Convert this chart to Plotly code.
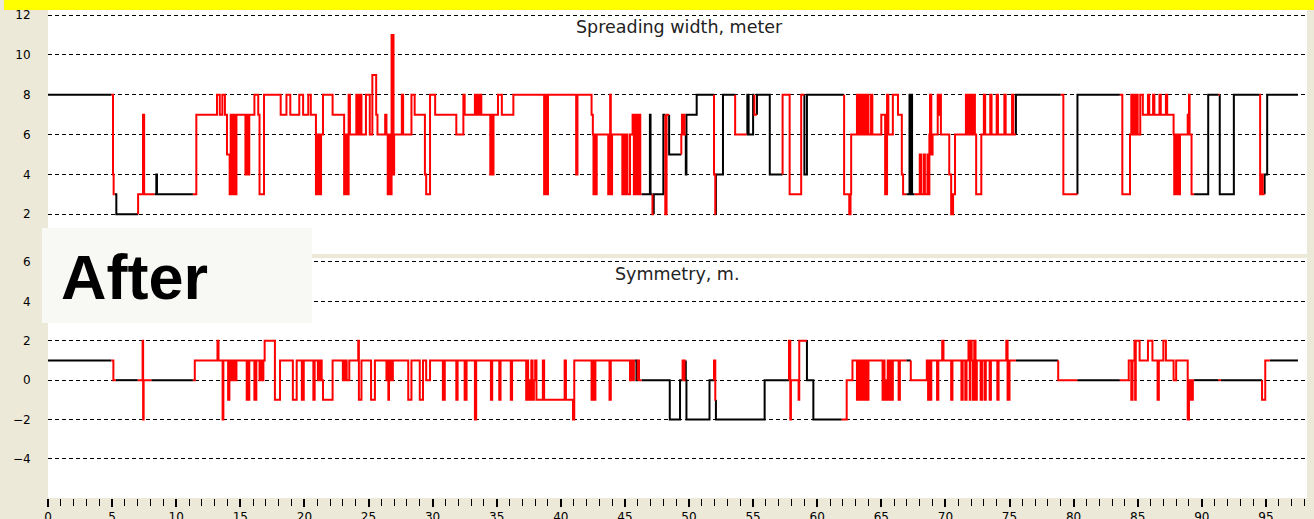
import plotly.graph_objects as go

W, H = 1314, 519

# ---------------- data: step series (start x, value, changed flag) ----------------
top_x = [0, 4.94, 5.07, 5.12, 5.2, 5.33, 7.03, 7.41, 7.5, 8.3, 8.45, 8.5, 11.3, 11.57,
         13.18, 13.4, 13.6, 13.8, 13.96, 14.17, 14.25, 14.3, 14.4, 14.45, 14.55, 14.6, 14.7,
         15.4, 15.45, 15.5, 15.55, 15.6, 15.7, 16.1, 16.4, 16.5, 16.85, 18.15, 18.6, 18.9,
         19.6, 19.9, 20.3, 20.5, 20.9, 21.0, 21.05, 21.15, 21.2, 21.3, 21.45, 22.2, 23.1,
         23.15, 23.2, 23.3, 23.35, 23.45, 23.55, 24.05, 24.15, 24.2, 24.3, 24.35, 24.45,
         24.8, 25.1, 25.3, 25.6, 25.7, 26.3, 26.4, 26.5, 26.6, 26.65, 26.8, 26.95, 27.0,
         27.6, 27.7, 28.35, 28.6, 29.4, 29.5, 29.8, 30.2, 31.85, 32.4, 32.5, 33.3, 33.4,
         33.5, 33.6, 33.7, 33.8, 34.5, 34.6, 34.65, 34.75, 35.1, 35.4, 36.3, 38.7, 38.8,
         38.9, 39.0, 41.2, 41.3, 42.4, 42.5, 42.55, 42.65, 42.7, 42.8, 43.7, 43.8, 43.85,
         43.9, 44.0, 44.8, 44.9, 44.95, 45.1, 45.2, 45.4, 45.6, 45.7, 45.75, 45.85, 45.9,
         46.0, 46.05, 46.2, 46.3, 46.95, 47.0, 47.15, 47.25, 48.0, 48.15, 48.25, 48.45,
         49.4, 49.45, 49.5, 49.55, 49.65, 49.75, 49.8, 50.6, 51.95, 52.05, 52.1, 52.65,
         53.6, 54.5, 54.55, 54.65, 55.0, 55.1, 55.3, 56.3, 57.3, 57.85, 58.75, 59.0, 59.2,
         62.1, 62.5, 62.6, 62.65, 63.1, 63.2, 63.3, 63.4, 63.5, 63.6, 63.7, 63.8, 63.9,
         64.0, 64.2, 64.3, 65.0, 65.3, 65.45, 65.55, 65.9, 66.3, 66.6, 66.7, 66.95, 67.2,
         67.25, 67.35, 67.4, 67.6, 68.0, 68.1, 68.3, 68.4, 68.6, 68.65, 68.75, 68.8, 68.9,
         69.0, 69.4, 69.5, 69.55, 69.65, 70.3, 70.45, 70.6, 70.75, 71.6, 71.7, 71.8, 71.9,
         72.0, 72.1, 72.2, 72.3, 72.4, 72.8, 73.0, 73.1, 73.5, 73.6, 74.0, 74.1, 74.6, 74.7,
         75.2, 75.3, 75.5, 79.0, 79.2, 80.3, 83.6, 83.8, 84.4, 84.5, 84.6, 84.7, 84.8, 84.9,
         85.0, 85.2, 85.4, 85.8, 85.9, 86.2, 86.3, 86.7, 86.8, 87.2, 87.3, 87.8, 87.85,
         87.95, 88.0, 88.1, 88.15, 88.3, 88.9, 89.0, 89.05, 89.2, 89.4, 90.5, 91.3, 91.4,
         92.5, 94.5, 94.55, 94.7, 94.75, 94.9, 95.1]
top_y = [8, 8, 4, 3, 3, 2, 3, 7, 3, 3, 4, 3, 3, 7,
         8, 7, 8, 7, 5, 3, 7, 3, 7, 3, 7, 3, 7,
         4, 7, 4, 7, 4, 7, 8, 7, 3, 8, 7, 8, 7,
         8, 7, 8, 7, 3, 6, 3, 6, 3, 6, 8, 7, 3,
         6, 3, 6, 3, 8, 6, 8, 6, 8, 6, 8, 6,
         8, 6, 9, 7, 6, 7, 6, 3, 6, 3, 11, 4, 6,
         8, 6, 8, 7, 4, 3, 8, 7, 6, 8, 7, 8, 7,
         8, 7, 8, 7, 4, 7, 4, 7, 8, 7, 8, 3, 8,
         3, 8, 4, 8, 7, 6, 3, 6, 3, 6, 3, 6, 8,
         3, 6, 3, 6, 3, 6, 3, 6, 7, 3, 7, 3, 7,
         3, 7, 3, 3, 7, 3, 2, 3, 7, 2, 7, 5,
         6, 7, 6, 7, 6, 4, 7, 8, 4, 2, 4, 8,
         6, 6, 8, 6, 8, 7, 8, 4, 8, 3, 8, 4, 8,
         3, 2, 3, 6, 8, 6, 8, 6, 8, 6, 8, 6, 8,
         6, 8, 6, 7, 3, 8, 6, 8, 7, 4, 3, 3, 8,
         3, 8, 3, 3, 5, 3, 5, 3, 5, 3, 6, 8, 5,
         6, 8, 7, 8, 6, 4, 2, 3, 6, 8, 6, 8, 6,
         8, 6, 8, 6, 3, 6, 8, 6, 8, 6, 8, 6, 8, 6,
         8, 6, 8, 8, 3, 8, 8, 3, 6, 8, 6, 8, 6, 8,
         6, 8, 7, 8, 7, 8, 7, 8, 7, 8, 7, 6, 3,
         6, 3, 6, 3, 6, 7, 8, 6, 3, 3, 8, 8, 3,
         8, 8, 3, 4, 3, 4, 8]
top_changed = [0, 1, 1, 1, 0, 0, 1, 1, 1, 0, 0, 0, 1, 1,
               1, 1, 1, 1, 1, 1, 1, 1, 1, 1, 1, 1, 1,
               1, 1, 1, 1, 1, 1, 1, 1, 1, 1, 1, 1, 1,
               1, 1, 1, 1, 1, 1, 1, 1, 1, 1, 1, 1, 1,
               1, 1, 1, 1, 1, 1, 1, 1, 1, 1, 1, 1,
               1, 1, 1, 1, 1, 1, 1, 1, 1, 1, 1, 1, 1,
               1, 1, 1, 1, 1, 1, 1, 1, 1, 1, 1, 1, 1,
               1, 1, 1, 1, 1, 1, 1, 1, 1, 1, 1, 1, 1,
               1, 1, 1, 1, 1, 1, 1, 1, 1, 1, 1, 1, 1,
               1, 1, 1, 1, 1, 1, 1, 1, 1, 1, 1, 1, 1,
               1, 1, 1, 0, 0, 0, 1, 0, 0, 1, 1, 0,
               1, 1, 1, 1, 1, 0, 0, 0, 1, 1, 0, 0,
               1, 0, 0, 0, 0, 1, 0, 0, 1, 1, 1, 0, 0,
               1, 1, 1, 1, 1, 1, 1, 1, 1, 1, 1, 1, 1,
               1, 1, 1, 1, 1, 1, 1, 1, 1, 1, 1, 0, 0,
               0, 0, 0, 1, 1, 1, 1, 1, 1, 1, 1, 1, 1,
               1, 1, 1, 1, 1, 1, 1, 1, 1, 1, 1, 1, 1,
               1, 1, 1, 1, 1, 1, 1, 1, 1, 1, 1, 1, 1, 1,
               1, 1, 0, 1, 1, 0, 1, 1, 1, 1, 1, 1, 1, 1,
               1, 1, 1, 1, 1, 1, 1, 1, 1, 1, 1, 1, 1,
               1, 1, 1, 1, 1, 1, 1, 1, 1, 0, 0, 1, 0,
               0, 1, 1, 1, 1, 0, 0]

bot_x = [0, 4.94, 5.1, 5.3, 7.0, 7.38, 7.42, 7.46, 8.06, 11.3, 11.45, 13.22, 13.3, 13.62,
         13.68, 14.05, 14.15, 14.2, 14.25, 14.35, 14.4, 14.5, 14.55, 14.7, 15.5, 15.55,
         15.6, 15.7, 16.1, 16.25, 16.5, 16.6, 16.65, 16.8, 16.9, 17.7, 18.1, 19.1, 19.4,
         19.8, 19.95, 20.7, 20.8, 21.05, 21.15, 21.2, 21.3, 21.35, 21.45, 22.2, 23.0, 23.1,
         23.15, 23.25, 23.3, 23.5, 24.2, 24.25, 24.45, 25.2, 25.5, 26.4, 26.5, 26.55, 26.6,
         26.7, 26.75, 26.9, 28.1, 28.35, 29.0, 29.25, 29.5, 29.8, 30.8, 30.95, 31.85, 31.95,
         32.5, 32.65, 33.3, 33.4, 34.55, 34.65, 35.2, 35.3, 36.1, 36.2, 37.3, 37.4, 37.45,
         37.55, 37.6, 37.7, 37.8, 37.9, 38.0, 38.1, 38.6, 38.7, 40.3, 40.4, 40.95, 41.05,
         42.4, 42.5, 42.6, 42.7, 43.8, 43.9, 45.4, 45.5, 45.6, 45.7, 45.8, 45.9, 46.0, 46.1,
         46.3, 48.5, 49.3, 49.5, 49.6, 49.65, 49.75, 49.8, 51.6, 51.95, 52.05, 52.1, 55.9,
         57.8, 57.9, 57.95, 58.55, 58.6, 59.2, 59.7, 61.9, 62.3, 62.75, 63.1, 63.2, 63.3,
         63.4, 63.5, 63.6, 63.7, 63.8, 63.9, 64.0, 65.1, 65.2, 65.25, 65.35, 65.4, 65.5,
         65.6, 65.7, 65.8, 65.9, 66.35, 66.45, 66.95, 67.3, 68.55, 68.65, 68.7, 68.85,
         68.9, 69.35, 69.45, 69.75, 69.85, 70.45, 70.55, 71.25, 71.35, 71.55, 71.65, 71.8,
         71.9, 71.95, 72.05, 72.15, 72.25, 72.35, 72.45, 72.75, 72.85, 73.05, 73.15, 73.45,
         73.55, 74.05, 74.15, 74.75, 74.85, 75.0, 75.5, 78.8, 80.3, 83.6, 84.3, 84.5, 84.6,
         84.75, 84.8, 84.85, 85.15, 85.8, 86.15, 86.55, 86.65, 87.0, 87.2, 87.8, 88.0, 88.9,
         89.0, 89.05, 89.15, 89.2, 89.3, 89.4, 91.3, 91.5, 94.7, 94.95, 95.3]
bot_y = [1, 1, 0, 0, 0, 2, -2, 0, 0, 0, 1, 2, 1, -2,
         1, -1, 0, 1, 0, 1, 0, 1, 0, 1, -1, 1,
         -1, 1, -1, 1, 0, 1, 0, 1, 2, -1, 1, -1, 1,
         -1, 1, -1, 1, 0, 1, 0, 1, 0, -1, 1, 0, 1,
         0, 1, 0, 1, 2, -1, 1, -1, 1, 0, 1, -1, 0,
         1, 0, 1, -1, 1, -1, 1, 0, 1, -1, 1, -1, 1,
         -1, 1, -2, 1, -1, 1, -1, 1, -1, 1, -1, 1, -1,
         0, -1, 1, -1, 0, 1, -1, 1, -1, 1, -1, -2, 1,
         -1, 1, -1, 1, -1, 1, 0, 1, 0, 1, 1, 0, 1, 0,
         0, -2, 0, 1, 0, 1, 0, -2, 0, 1, -1, -2, 0,
         2, -2, 0, -1, 2, 0, -2, -2, 0, 1, -1, 1, -1,
         1, -1, 1, -1, 1, -1, 1, -1, 1, -1, 0, -1, 1,
         -1, 1, -1, 1, -1, 1, 1, 0, 1, -1, 1, -1,
         1, -1, 1, 2, 1, -1, 1, -1, 1, -1, 1, 2,
         -1, 2, 1, -1, 2, -1, 1, -1, 1, -1, 1, -1,
         1, -1, 1, 2, -1, 1, 1, 0, 0, 0, 1, -1, 1,
         2, -1, 2, 1, 2, 1, -1, 1, 2, 1, 0, 1, -2,
         0, -1, 0, -1, 0, 0, 0, 0, -1, 1, 1]
bot_changed = [0, 1, 1, 0, 1, 1, 1, 1, 0, 1, 1, 1, 1, 1,
               1, 1, 1, 1, 1, 1, 1, 1, 1, 1, 1, 1,
               1, 1, 1, 1, 1, 1, 1, 1, 1, 1, 1, 1, 1,
               1, 1, 1, 1, 1, 1, 1, 1, 1, 1, 1, 1, 1,
               1, 1, 1, 1, 1, 1, 1, 1, 1, 1, 1, 1, 1,
               1, 1, 1, 1, 1, 1, 1, 1, 1, 1, 1, 1, 1,
               1, 1, 1, 1, 1, 1, 1, 1, 1, 1, 1, 1, 1,
               1, 1, 1, 1, 1, 1, 1, 1, 1, 1, 1, 1, 1,
               1, 1, 1, 1, 1, 1, 1, 1, 1, 1, 0, 0, 1, 1,
               0, 0, 0, 1, 1, 1, 0, 0, 0, 1, 1, 0, 0,
               1, 1, 1, 1, 1, 0, 0, 1, 1, 1, 1, 1, 1,
               1, 1, 1, 1, 1, 1, 1, 1, 1, 1, 1, 1, 1,
               1, 1, 1, 1, 1, 1, 0, 1, 1, 1, 1, 1,
               1, 1, 1, 1, 1, 1, 1, 1, 1, 1, 1, 1,
               1, 1, 1, 1, 1, 1, 1, 1, 1, 1, 1, 1,
               1, 1, 1, 1, 1, 1, 0, 1, 0, 1, 1, 1, 1,
               1, 1, 1, 1, 1, 1, 1, 1, 1, 1, 1, 1, 1,
               1, 1, 1, 1, 1, 0, 1, 0, 1, 1, 0]
x_end = 97.5

x_tick_vals = list(range(0, 100, 5))
top_tick_vals = [2, 4, 6, 8, 10, 12]
bot_tick_vals = [-4, -2, 0, 2, 4, 6]
top_title = "Spreading width, meter"
bot_title = "Symmetry, m."
label_text = "After"


def split_runs(xs, ys, flags, xend, want):
    px, py = [], []
    n = len(xs)
    i = 0
    while i < n:
        j = i
        while j + 1 < n and flags[j + 1] == flags[i]:
            j += 1
        if flags[i] == want:
            if i > 0:
                px.append(xs[i]); py.append(ys[i - 1])
            for k in range(i, j + 1):
                px.append(xs[k]); py.append(ys[k])
            xa = xs[j + 1] if j + 1 < n else xend
            px.append(xa); py.append(ys[j])
            px.append(None); py.append(None)
        i = j + 1
    return px, py


fig = go.Figure()
for (xs, ys, fl, xa, ya) in [(top_x, top_y, top_changed, "x", "y"),
                              (bot_x, bot_y, bot_changed, "x2", "y2")]:
    for want, col in [(0, "#000000"), (1, "#ff0000")]:
        px, py = split_runs(xs, ys, fl, x_end, want)
        fig.add_trace(go.Scatter(x=px, y=py, mode="lines", xaxis=xa, yaxis=ya,
                                 line=dict(color=col, width=2, shape="hv"),
                                 connectgaps=False, hoverinfo="skip", showlegend=False))

X0, X1 = 48, 1307
def fy(p):
    return 1 - p / H

xdom = [X0 / W, X1 / W]
xr = [0, (X1 - X0) / 12.82]
grid = dict(showgrid=True, gridcolor="#000000", gridwidth=1, griddash="4px,3px",
            zeroline=False, showline=False, automargin=False)
font_ax = dict(family="DejaVu Sans", size=12, color="#000000")

fig.update_layout(
    width=W, height=H, margin=dict(l=0, r=0, t=0, b=0, autoexpand=False),
    paper_bgcolor="#ECE9D8", plot_bgcolor="#ffffff",
    xaxis=dict(domain=xdom, range=xr, showgrid=False, zeroline=False, showticklabels=False,
               ticks="", anchor="y", automargin=False),
    yaxis=dict(domain=[fy(254), fy(10)], range=[0, 12.26], tickvals=top_tick_vals,
               ticks="outside", ticklen=14, tickcolor="rgba(0,0,0,0)", tickfont=font_ax,
               anchor="x", **grid),
    xaxis2=dict(domain=xdom, range=xr, showgrid=False, zeroline=False, showline=False,
                automargin=False,
                tickvals=x_tick_vals, ticks="outside", ticklen=8, tickwidth=2,
                tickcolor="#000000", tickfont=font_ax, anchor="y2",
                minor=dict(dtick=1, tick0=0, ticks="outside", ticklen=7, tickwidth=1,
                           tickcolor="#000000")),
    yaxis2=dict(domain=[fy(498), fy(258)], range=[-5.98, 6.2], tickvals=bot_tick_vals,
                ticks="outside", ticklen=14, tickcolor="rgba(0,0,0,0)", tickfont=font_ax,
                anchor="x2", **grid),
    shapes=[
        dict(type="rect", xref="paper", yref="paper", x0=0.003, x1=1, y0=fy(10), y1=1,
             fillcolor="#ffff00", line=dict(width=0), layer="above"),
        dict(type="rect", xref="paper", yref="paper", x0=42 / W, x1=312 / W,
             y0=fy(323), y1=fy(228), fillcolor="#f8f8f4", line=dict(width=0), layer="above"),
    ],
    annotations=[
        dict(text=top_title, xref="paper", yref="paper", x=679 / W, y=fy(27),
             xanchor="center", yanchor="middle", showarrow=False,
             font=dict(family="DejaVu Sans", size=17.5, color="#222222")),
        dict(text=bot_title, xref="paper", yref="paper", x=677 / W, y=fy(274),
             xanchor="center", yanchor="middle", showarrow=False,
             font=dict(family="DejaVu Sans", size=17.5, color="#222222")),
        dict(text="<b>" + label_text + "</b>", xref="paper", yref="paper", x=59 / W, y=fy(277),
             xanchor="left", yanchor="middle", showarrow=False,
             font=dict(family="Liberation Sans", size=63, color="#000000")),
    ],
)

fig.write_html("out.html", config={"displayModeBar": False},
               post_script="document.body.style.margin='0';document.body.style.overflow='hidden';")
